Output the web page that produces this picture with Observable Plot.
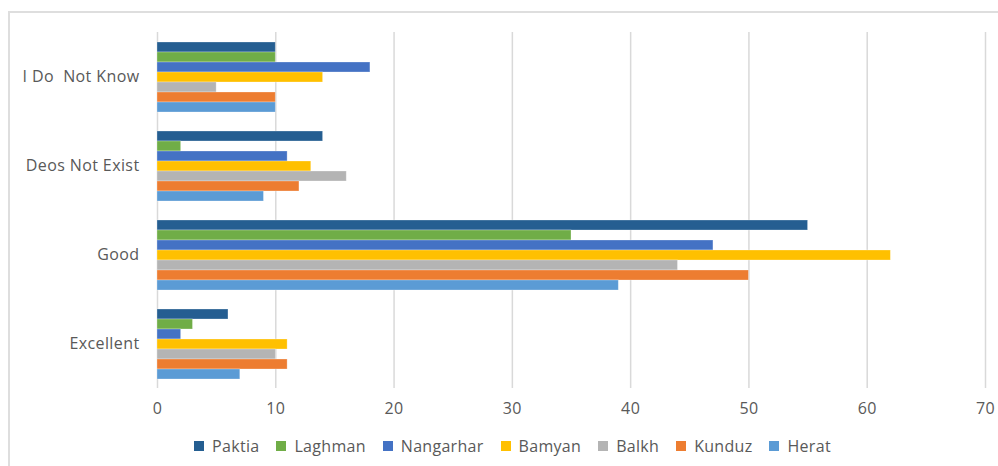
<!DOCTYPE html>
<html>
<head>
<meta charset="utf-8">
<script src="https://cdn.jsdelivr.net/npm/d3@7"></script>
<script src="https://cdn.jsdelivr.net/npm/@observablehq/plot@0.6"></script>
<style>
  html, body { margin: 0; padding: 0; background: #fff; }
  body { width: 998px; height: 466px; position: relative; overflow: hidden; font-family: 'Open Sans', sans-serif; }
  #frame { position: absolute; left: 8px; top: 11px; width: 1100px; height: 600px; border-top: 2px solid #dedede; border-left: 2px solid #dedede; }
  #chart { position: absolute; left: 0; top: 0; }
  #chart svg text { white-space: pre; letter-spacing: 0.4px; }
  #legend { position: absolute; left: 0; top: 429px; width: 998px; display: flex; justify-content: center; padding-left: 44px; box-sizing: border-box; letter-spacing: 0.3px; }
  #legend div > span { margin-right: 17px !important; }
</style>
</head>
<body>
<div id="frame"></div>
<div id="chart"></div>
<div id="legend"></div>
<script>
// Categories (top to bottom)
const categories = ["I Do  Not Know", "Deos Not Exist", "Good", "Excellent"];
// Series names and colours
const series = ["Paktia", "Laghman", "Nangarhar", "Bamyan", "Balkh", "Kunduz", "Herat"];
const seriesColors = ["#255e91", "#70ad47", "#4472c4", "#ffc000", "#b4b4b4", "#ed7d31", "#5b9bd5"];
// Values per series, in category order
const paktia    = [10, 14, 55, 6];
const laghman   = [10, 2, 35, 3];
const nangarhar = [18, 11, 47, 2];
const bamyan    = [14, 13, 62, 11];
const balkh     = [5, 16, 44, 10];
const kunduz    = [10, 12, 50, 11];
const herat     = [10, 9, 39, 7];
// X axis ticks
const xTicks = [0, 10, 20, 30, 40, 50, 60, 70];

const valuesBySeries = [paktia, laghman, nangarhar, bamyan, balkh, kunduz, herat];
const data = series.flatMap((s, i) =>
  categories.map((c, j) => ({ category: c, province: s, value: valuesBySeries[i][j] }))
);

const chart = Plot.plot({
  width: 998,
  height: 420,
  marginTop: 31,
  marginBottom: 32,
  marginLeft: 157,
  marginRight: 13,
  style: { fontFamily: "'Open Sans', sans-serif", fontSize: "16px", color: "#595959", background: "transparent" },
  x: { domain: [0, 70] },
  y: { domain: series, axis: null, paddingInner: 0, paddingOuter: 0.92 },
  fy: { domain: categories, padding: 0, label: null },
  color: { domain: series, range: seriesColors },
  marks: [
    Plot.gridX(xTicks, { stroke: "#d9d9d9", strokeOpacity: 1, strokeWidth: 1.5 }),
    Plot.barX(data, {
      x: "value", y: "province", fy: "category", fill: "province",
      stroke: "#ffffff", strokeOpacity: 0.35, strokeWidth: 0.8
    }),
    Plot.axisX({ ticks: xTicks, tickSize: 0, tickPadding: 14, label: null, anchor: "bottom" }),
    Plot.axisFy({ anchor: "left", tickSize: 0, tickPadding: 18, label: null })
  ]
});
document.getElementById("chart").appendChild(chart);

const legend = Plot.legend({
  color: { domain: series, range: seriesColors },
  legend: "swatches",
  swatchSize: 10,
  style: { fontFamily: "'Open Sans', sans-serif", fontSize: "16px", color: "#595959" }
});
document.getElementById("legend").appendChild(legend);
</script>
</body>
</html>
